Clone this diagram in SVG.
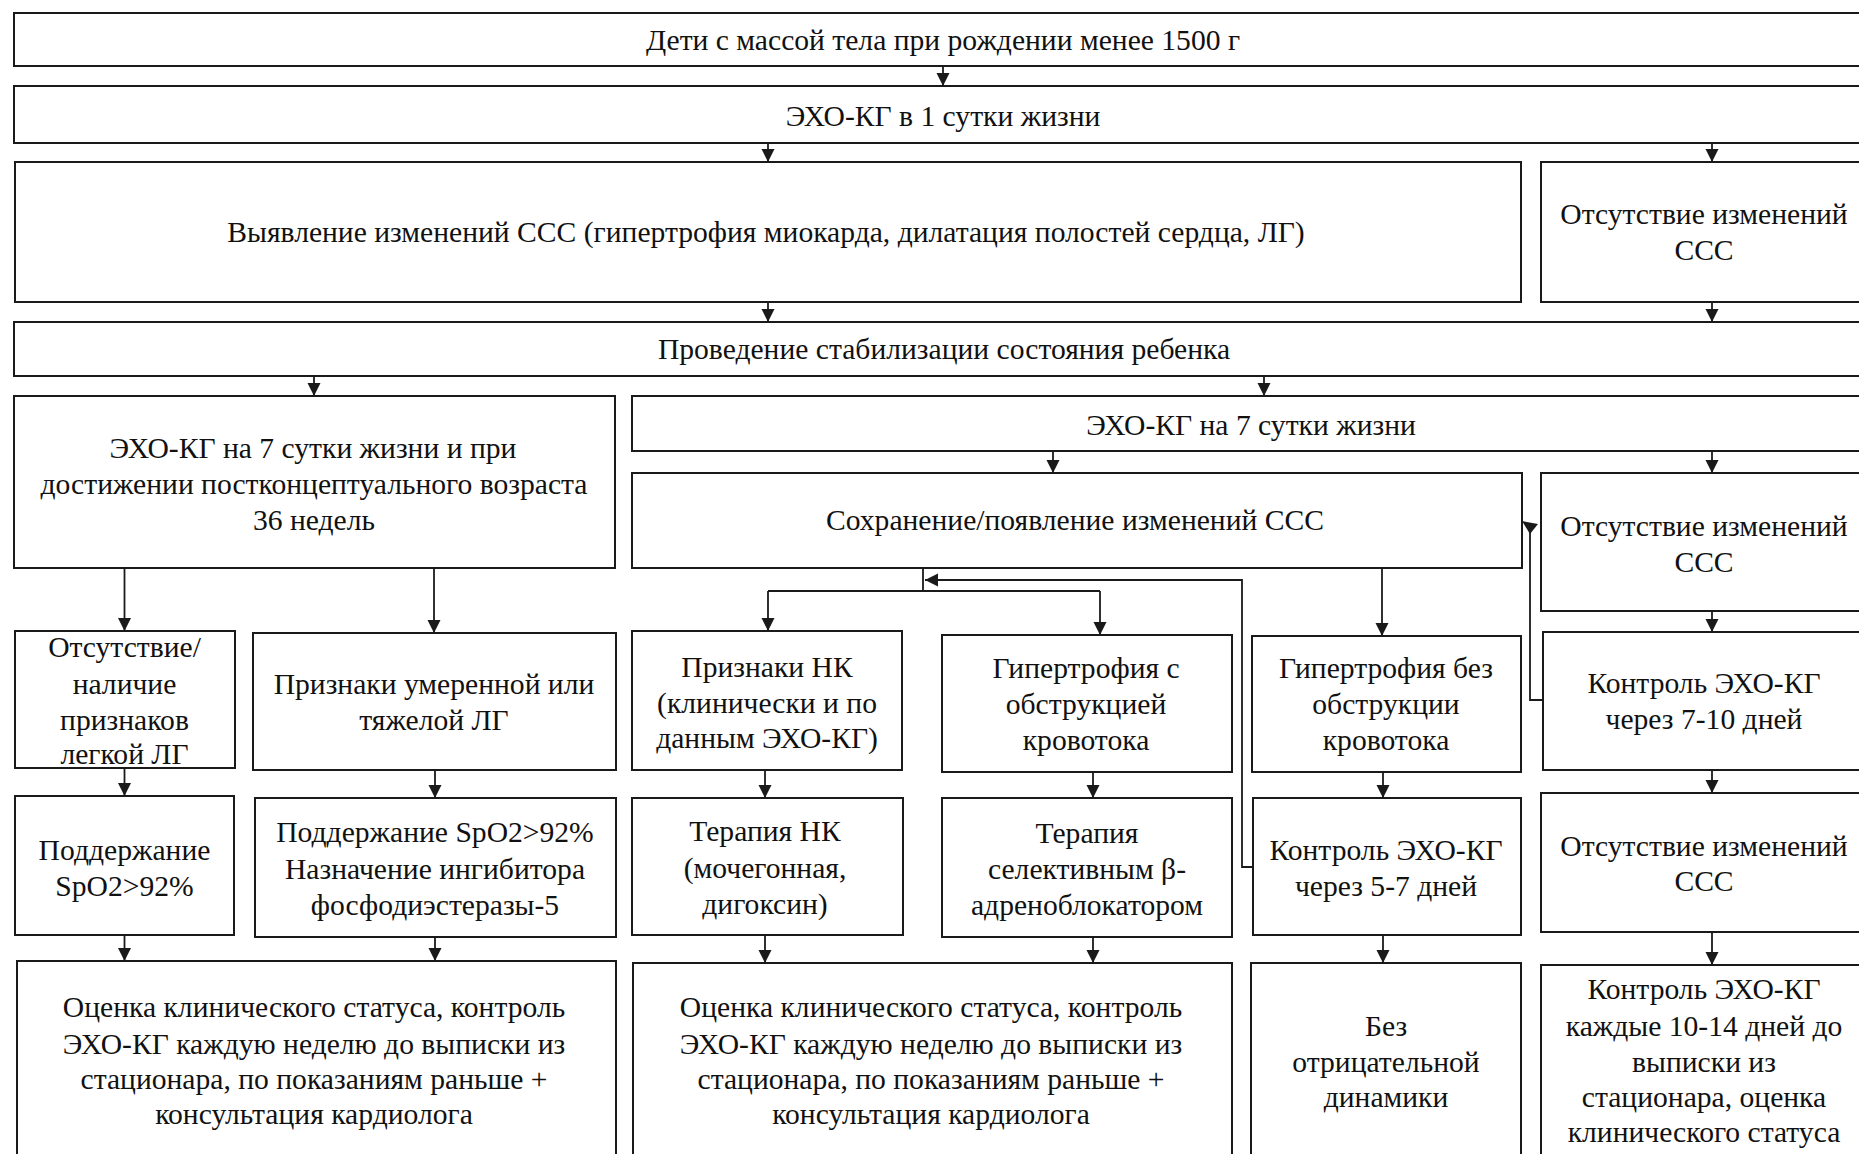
<svg xmlns="http://www.w3.org/2000/svg" width="1859" height="1154" viewBox="0 0 1859 1154">
<style>
.b{fill:#fff;stroke:#1a1a1a;stroke-width:2}
.t{font-family:"Liberation Serif","Times New Roman",serif;font-size:29.6px;fill:#111;text-anchor:middle;dominant-baseline:central}
.c{fill:none;stroke:#1a1a1a;stroke-width:1.8}
.a{marker-end:url(#ah)}
</style>
<defs>
<marker id="ah" markerUnits="userSpaceOnUse" markerWidth="14" markerHeight="14" refX="13" refY="7" orient="auto" viewBox="0 0 14 14">
<path d="M0,0.5 L13,7 L0,13.5 z" fill="#1a1a1a"/>
</marker>
</defs>
<rect width="1859" height="1154" fill="#fff"/>
<g id="n1"><rect class="b" x="14" y="13" width="1870" height="53"/><text class="t" x="943" y="40">Дети с массой тела при рождении менее 1500 г</text></g>
<g id="n2"><rect class="b" x="14" y="86" width="1870" height="57"/><text class="t" x="943" y="116">ЭХО-КГ в 1 сутки жизни</text></g>
<g id="n3"><rect class="b" x="15" y="162" width="1506" height="140"/><text class="t" x="766" y="232">Выявление изменений ССС (гипертрофия миокарда, дилатация полостей сердца, ЛГ)</text></g>
<g id="n4"><rect class="b" x="1541" y="162" width="340" height="140"/><text class="t" x="1704" y="214">Отсутствие изменений</text><text class="t" x="1704" y="250">ССС</text></g>
<g id="n5"><rect class="b" x="14" y="322" width="1870" height="54"/><text class="t" x="944" y="349">Проведение стабилизации состояния ребенка</text></g>
<g id="n6"><rect class="b" x="14" y="396" width="601" height="172"/><text class="t" x="313" y="448">ЭХО-КГ на 7 сутки жизни и при</text><text class="t" x="314" y="484">достижении постконцептуального возраста</text><text class="t" x="314" y="520">36 недель</text></g>
<g id="n7"><rect class="b" x="632" y="396" width="1250" height="55"/><text class="t" x="1251" y="425">ЭХО-КГ на 7 сутки жизни</text></g>
<g id="n8"><rect class="b" x="632" y="473" width="890" height="95"/><text class="t" x="1075" y="520">Сохранение/появление изменений ССС</text></g>
<g id="n9"><rect class="b" x="1541" y="473" width="340" height="138"/><text class="t" x="1704" y="526">Отсутствие изменений</text><text class="t" x="1704" y="562">ССС</text></g>
<g id="n10"><rect class="b" x="15" y="631" width="220" height="137"/><text class="t" x="124.5" y="647">Отсутствие/</text><text class="t" x="124.5" y="684">наличие</text><text class="t" x="124.5" y="720">признаков</text><text class="t" x="124.5" y="754">легкой ЛГ</text></g>
<g id="n11"><rect class="b" x="253" y="633" width="363" height="137"/><text class="t" x="434" y="684">Признаки умеренной или</text><text class="t" x="434" y="720">тяжелой ЛГ</text></g>
<g id="n12"><rect class="b" x="632" y="631" width="270" height="139"/><text class="t" x="767" y="667">Признаки НК</text><text class="t" x="767" y="703">(клинически и по</text><text class="t" x="767" y="738">данным ЭХО-КГ)</text></g>
<g id="n13"><rect class="b" x="942" y="635" width="290" height="137"/><text class="t" x="1086" y="668">Гипертрофия с</text><text class="t" x="1086" y="704">обструкцией</text><text class="t" x="1086" y="740">кровотока</text></g>
<g id="n14"><rect class="b" x="1252" y="636" width="269" height="136"/><text class="t" x="1386" y="668">Гипертрофия без</text><text class="t" x="1386" y="704">обструкции</text><text class="t" x="1386" y="740">кровотока</text></g>
<g id="n15"><rect class="b" x="1543" y="632" width="340" height="138"/><text class="t" x="1704" y="683">Контроль ЭХО-КГ</text><text class="t" x="1704" y="719">через 7-10 дней</text></g>
<g id="n16"><rect class="b" x="15" y="796" width="219" height="139"/><text class="t" x="124.5" y="850">Поддержание</text><text class="t" x="124.5" y="886">SpO2&gt;92%</text></g>
<g id="n17"><rect class="b" x="255" y="798" width="361" height="139"/><text class="t" x="435" y="832">Поддержание SpO2&gt;92%</text><text class="t" x="435" y="869">Назначение ингибитора</text><text class="t" x="435" y="905">фосфодиэстеразы-5</text></g>
<g id="n18"><rect class="b" x="632" y="798" width="271" height="137"/><text class="t" x="765" y="831">Терапия НК</text><text class="t" x="765" y="868">(мочегонная,</text><text class="t" x="765" y="904">дигоксин)</text></g>
<g id="n19"><rect class="b" x="942" y="798" width="290" height="139"/><text class="t" x="1087" y="833">Терапия</text><text class="t" x="1087" y="869">селективным β-</text><text class="t" x="1087" y="905">адреноблокатором</text></g>
<g id="n20"><rect class="b" x="1253" y="798" width="268" height="137"/><text class="t" x="1386" y="850">Контроль ЭХО-КГ</text><text class="t" x="1386" y="886">через 5-7 дней</text></g>
<g id="n21"><rect class="b" x="1541" y="793" width="340" height="139"/><text class="t" x="1704" y="846">Отсутствие изменений</text><text class="t" x="1704" y="881">ССС</text></g>
<g id="n22"><rect class="b" x="17" y="961" width="599" height="220"/><text class="t" x="314" y="1007">Оценка клинического статуса, контроль</text><text class="t" x="314" y="1044">ЭХО-КГ каждую неделю до выписки из</text><text class="t" x="314" y="1079">стационара, по показаниям раньше +</text><text class="t" x="314" y="1114">консультация кардиолога</text></g>
<g id="n23"><rect class="b" x="633" y="963" width="599" height="220"/><text class="t" x="931" y="1007">Оценка клинического статуса, контроль</text><text class="t" x="931" y="1044">ЭХО-КГ каждую неделю до выписки из</text><text class="t" x="931" y="1079">стационара, по показаниям раньше +</text><text class="t" x="931" y="1114">консультация кардиолога</text></g>
<g id="n24"><rect class="b" x="1251" y="963" width="270" height="220"/><text class="t" x="1386" y="1026">Без</text><text class="t" x="1386" y="1062">отрицательной</text><text class="t" x="1386" y="1097">динамики</text></g>
<g id="n25"><rect class="b" x="1541" y="965" width="340" height="220"/><text class="t" x="1704" y="989">Контроль ЭХО-КГ</text><text class="t" x="1704" y="1026">каждые 10-14 дней до</text><text class="t" x="1704" y="1062">выписки из</text><text class="t" x="1704" y="1097">стационара, оценка</text><text class="t" x="1704" y="1132">клинического статуса</text></g>
<g id="connectors">
<path class="c a" d="M943,66 V86"/>
<path class="c a" d="M768,143 V162"/>
<path class="c a" d="M1712,143 V162"/>
<path class="c a" d="M768,302 V322"/>
<path class="c a" d="M1712,302 V322"/>
<path class="c a" d="M314,376 V396"/>
<path class="c a" d="M1264,376 V396"/>
<path class="c a" d="M1053,451 V473"/>
<path class="c a" d="M1712,451 V473"/>
<path class="c a" d="M124.5,568 V631"/>
<path class="c a" d="M434,568 V633"/>
<path class="c" d="M923,568 V591 M768,591 H1100"/>
<path class="c a" d="M768,591 V631"/>
<path class="c a" d="M1100,591 V635"/>
<path class="c a" d="M1382,568 V636"/>
<path class="c a" d="M1253,867 H1242 V580 H925"/>
<path class="c a" d="M1712,611 V632"/>
<path class="c" d="M1543,700 H1530 V532"/>
<polygon points="1522,521 1538,524 1530,534" fill="#1a1a1a"/>
<path class="c a" d="M124.5,768 V796"/>
<path class="c a" d="M435,770 V798"/>
<path class="c a" d="M765,770 V798"/>
<path class="c a" d="M1093,772 V798"/>
<path class="c a" d="M1383,772 V798"/>
<path class="c a" d="M1712,770 V793"/>
<path class="c a" d="M124.5,935 V961"/>
<path class="c a" d="M435,937 V961"/>
<path class="c a" d="M765,935 V963"/>
<path class="c a" d="M1093,937 V963"/>
<path class="c a" d="M1383,935 V963"/>
<path class="c a" d="M1712,932 V965"/>
</g>
</svg>
